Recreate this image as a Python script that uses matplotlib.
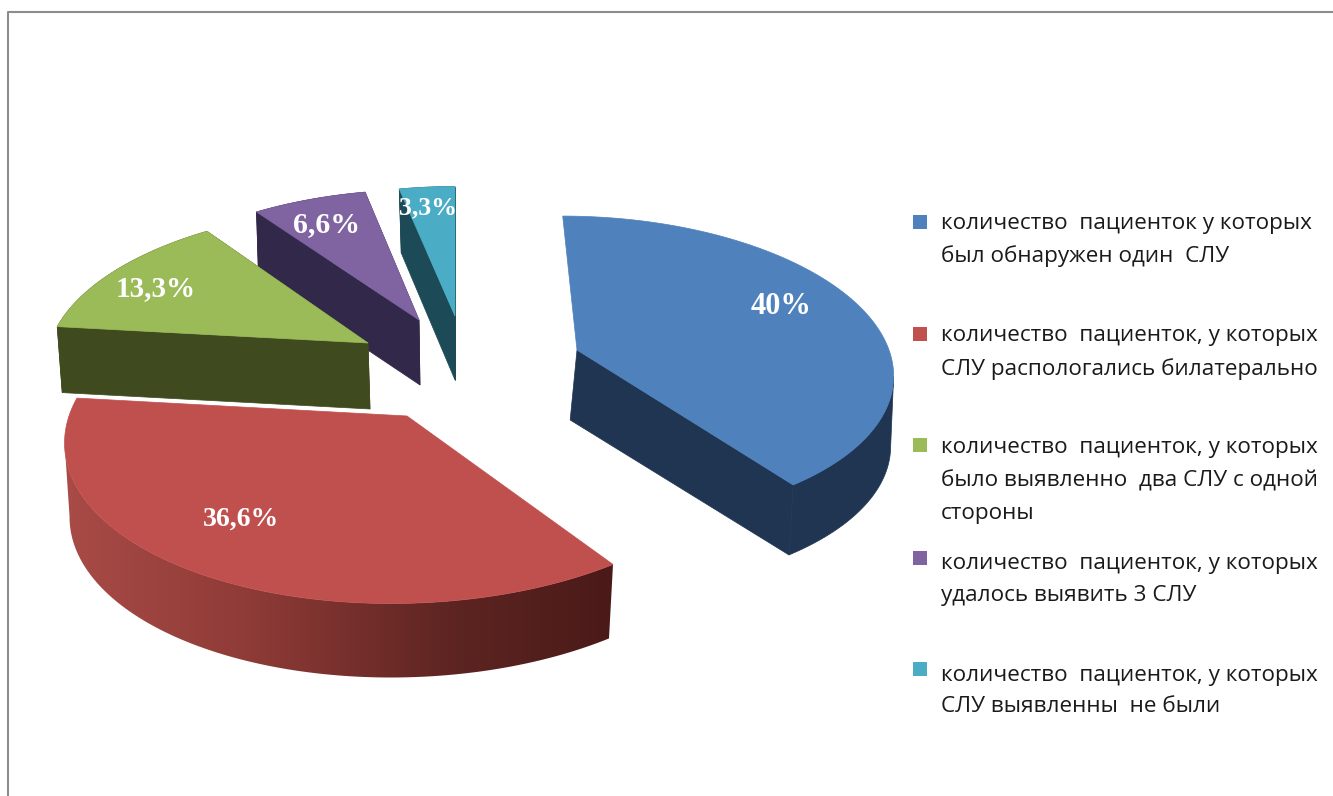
import numpy as np
import matplotlib
matplotlib.use("Agg")
import matplotlib.pyplot as plt
from matplotlib.patches import Polygon, Rectangle
from matplotlib.colors import LinearSegmentedColormap

W, H = 1333, 796
values = [40.0, 36.6, 13.3, 6.6, 3.3]
value_labels = ["40%", "36,6%", "13,3%", "6,6%", "3,3%"]
categories = [
    "количество  пациенток у которых\nбыл обнаружен один  СЛУ",
    "количество  пациенток, у которых\nСЛУ распологались билатерально",
    "количество  пациенток, у которых\nбыло выявленно  два СЛУ с одной\nстороны",
    "количество  пациенток, у которых\nудалось выявить 3 СЛУ",
    "количество  пациенток, у которых\nСЛУ выявленны  не были",
]
colors = ["#4f81bd", "#c0504d", "#9bbb59", "#8064a2", "#4bacc6"]
side_colors = ["#1f3552", None, "#3f4a1f", "#32284a", "#1c4a56"]

# layout of each exploded slice in pixels:
# apex x, apex y, rx, ry, skew, depth, wall shift at left, wall shift at right
layout = [
    (577, 350, 312, 150, -16, 70, -7, -3),
    (407, 416, 338, 165, 14, 74, 5, -4),
    (368, 343, 318, 151, 11, 66, 5, 2),
    (419, 320, 311, 146, 4, 65, 2, 1),
    (455, 316, 302, 145, 0, 64, 2, 0),
]
PERSP = 0.12
label_pos = [(781, 306), (241, 519), (156, 289), (327, 225), (428, 208)]
label_size = [22, 20, 21, 21.5, 18.5]
legend_y = [(224, 256), (336, 369), (448, 481, 514), (563, 595), (675, 707)]
marker_y = [222, 334, 445, 558, 669]

fig = plt.figure(figsize=(W / 100, H / 100), dpi=100)
ax = fig.add_axes([0, 0, 1, 1])
ax.axis("off")


def project(theta, L):
    x0, y0, rx, ry, sk = L[:5]
    u, v = np.sin(theta), np.cos(theta)
    s = 1 / (1 + PERSP * v)
    return x0 + (rx * u + sk * v) * s, y0 - ry * v * s


red_cmap = LinearSegmentedColormap.from_list(
    "redwall", [(0, "#a94b47"), (0.35, "#8d3a36"), (0.7, "#5e2522"), (1, "#4a1a18")])

start = np.cumsum([0] + values[:-1]) / sum(values) * 2 * np.pi
stop = np.cumsum(values) / sum(values) * 2 * np.pi
order = [3, 4, 2, 0, 1]
for i in order:
    L = layout[i]
    x0, y0, d, dl, dr = L[0], L[1], L[5], L[6], L[7]
    th = np.linspace(start[i], stop[i], 200)
    xs, ys = project(th, L)
    xmin, xmax = min(xs.min(), x0), max(xs.max(), x0)

    def shift(x):
        return dl + (dr - dl) * (np.asarray(x) - xmin) / (xmax - xmin)

    # outer curved wall, cut at the silhouette of the top face
    if i == 0:
        ax_, ay_ = xs[np.argmax(xs):], ys[np.argmax(xs):]
    elif i == 1:
        ax_, ay_ = xs[:np.argmin(xs) + 1], ys[:np.argmin(xs) + 1]
    else:
        ax_, ay_ = xs, ys
    wall = np.c_[np.r_[ax_, (ax_ + shift(ax_))[::-1]], np.r_[ay_, (ay_ + d)[::-1]]]
    if i == 1:
        poly = Polygon(wall, closed=True, fc="none", ec="none", zorder=2)
        ax.add_patch(poly)
        grad = np.linspace(0, 1, 256).reshape(1, -1)
        im = ax.imshow(grad, cmap=red_cmap, aspect="auto", zorder=2,
                       extent=(xmin, xmax, 700, 380))
        im.set_clip_path(poly)
    else:
        ax.add_patch(Polygon(wall, closed=True, fc=side_colors[i], ec=side_colors[i],
                             lw=0.5, zorder=2))
        # flat cut walls; the blue slice shows only the cut at its end angle
        ends = [(xs[-1], ys[-1])] if i == 0 else [(xs[0], ys[0]), (xs[-1], ys[-1])]
        for ex, ey in ends:
            q = [(x0, y0), (ex, ey), (ex + shift(ex), ey + d), (x0 + shift(x0), y0 + d)]
            ax.add_patch(Polygon(q, closed=True, fc=side_colors[i], ec=side_colors[i],
                                 lw=0.5, zorder=2))
    ax.add_patch(Polygon(np.c_[np.r_[x0, xs], np.r_[y0, ys]], closed=True,
                         fc=colors[i], ec=colors[i], lw=0.5, zorder=3))

ax.set_xlim(0, W)
ax.set_ylim(H, 0)

for lab, p, sz in zip(value_labels, label_pos, label_size):
    ax.text(p[0], p[1], lab, color="white", fontsize=sz, fontweight="bold",
            family="Liberation Serif", ha="center", va="center", zorder=5)

for cat, ys_, my, col in zip(categories, legend_y, marker_y, colors):
    ax.add_patch(Rectangle((913, my - 7), 14, 14, fc=col, ec="none", zorder=4))
    for line, y in zip(cat.split("\n"), ys_):
        ax.text(941, y, line, color="#1a1a1a", fontsize=16.2, family="Open Sans",
                ha="left", va="center", zorder=5)

# chart frame
ax.plot([8, 8, W], [H, 12, 12], color="#8c8c8c", lw=1.5, zorder=1)

fig.savefig("out.png", dpi=100, facecolor="white")
